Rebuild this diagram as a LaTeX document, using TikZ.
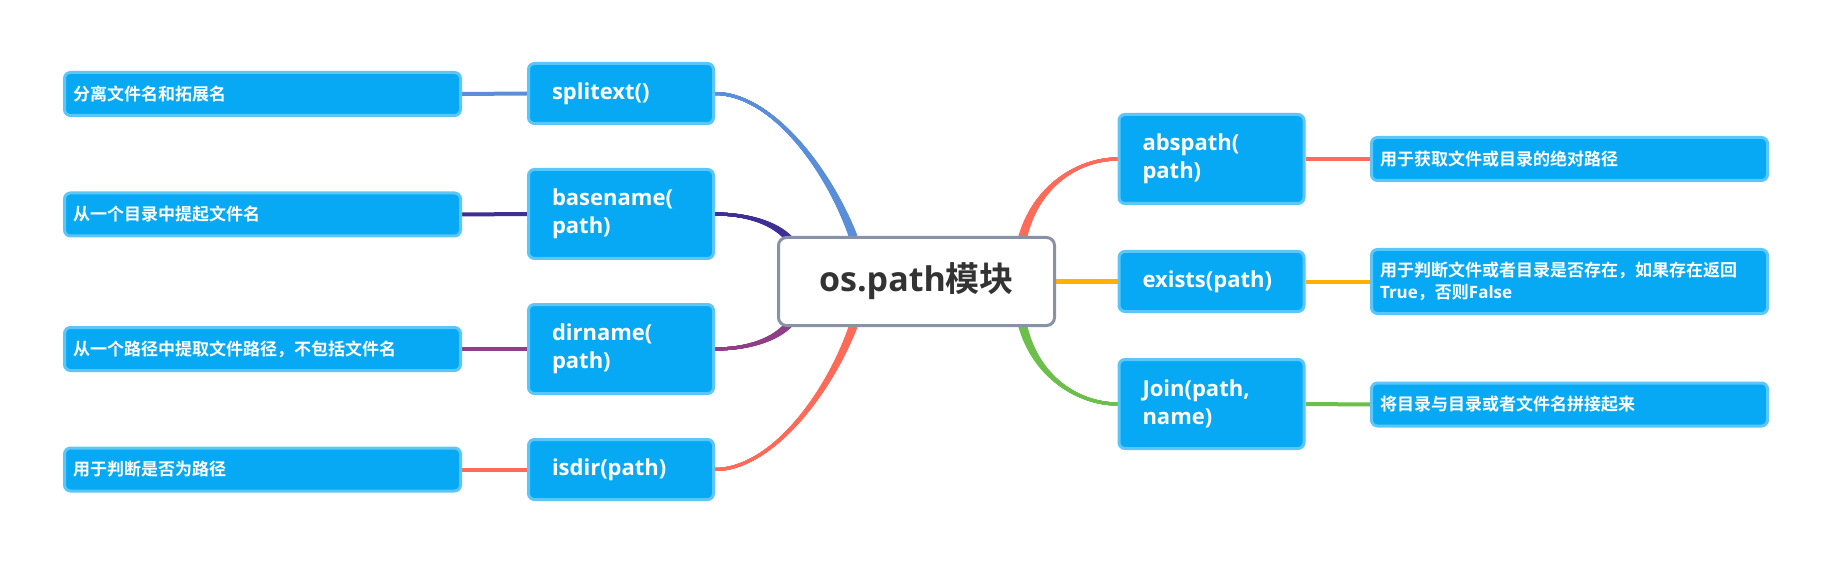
\documentclass[tikz,border=0pt]{standalone}
\usepackage{fontspec}
\setmainfont{Open Sans}
\newfontfamily\cjk{Noto Sans CJK SC}[BoldFont={Noto Sans CJK SC Bold}]
\newfontfamily\lat{Open Sans}
\usetikzlibrary{calc}
\definecolor{boxfill}{HTML}{07A9F5}
\definecolor{boxline}{HTML}{5BC6F7}
\definecolor{cline}{HTML}{8792A6}
\definecolor{ctext}{HTML}{333333}
\definecolor{cblue}{HTML}{5B8ED8}
\definecolor{cindigo}{HTML}{3F2E93}
\definecolor{cpurple}{HTML}{8E3F86}
\definecolor{ccoral}{HTML}{FF6B58}
\definecolor{corange}{HTML}{FFB000}
\definecolor{cgreen}{HTML}{6CBF4B}
\pgfdeclarelayer{back}\pgfdeclarelayer{bg}\pgfsetlayers{back,bg,main}
\tikzset{
  centerbox/.style={draw=cline, line width=3pt, fill=white, rounded corners=8pt,
    minimum width=276pt, minimum height=88pt, inner sep=0pt, text=ctext,
    font=\fontsize{34}{40}\selectfont\bfseries},
  childbox/.style={draw=boxline, line width=3pt, fill=boxfill, rounded corners=6pt,
    text width=138pt, inner xsep=23.5pt, inner ysep=0pt, align=left, text=white,
    font=\fontsize{22}{28}\selectfont\bfseries},
  leafbox/.style={draw=boxline, line width=3pt, fill=boxfill, rounded corners=6pt,
    text width=379pt, inner xsep=8.5pt, inner ysep=0pt, align=left, text=white,
    minimum height=43pt, font=\cjk\fontsize{17}{21.7}\selectfont\bfseries},
  leafline/.style={line width=4pt},
}
\newcommand\taperline[7]{%
  \foreach \dd in {-1,-0.8,-0.6,-0.4,-0.2,0,0.2,0.4,0.6,0.8,1}{%
    \draw[#1, line width=3pt] ($(#2)+({\dd*(#6)},{\dd*(#7)})$) .. controls ($(#3)+({0.5*\dd*(#6)},{0.5*\dd*(#7)})$) and (#4) .. (#5);
  }%
}
\begin{document}
\begin{tikzpicture}[x=1pt,y=-1pt]
\useasboundingbox (0,0) rectangle (1830,561);
\begin{pgfonlayer}{back}
\fill[white] (0,0) rectangle (1830,561);
\end{pgfonlayer}

\node[centerbox] (center) at (916.5,281.5) {os.path{\cjk 模块}};

\node[childbox, minimum height=60pt] (splitext) at (621,93.5) {splitext()};
\node[childbox, minimum height=89pt] (basename) at (621,214) {basename(\\path)};
\node[childbox, minimum height=89pt] (dirname) at (621,349) {dirname(\\path)};
\node[childbox, minimum height=60pt] (isdir) at (621,469.5) {isdir(path)};

\node[childbox, minimum height=89pt] (abspath) at (1211.5,159) {abspath(\\path)};
\node[childbox, minimum height=60pt] (exists) at (1211.5,281.5) {exists(path)};
\node[childbox, minimum height=89pt] (join) at (1211.5,404) {Join(path,\\name)};

\node[leafbox] (l1) at (262.5,94) {分离文件名和拓展名};
\node[leafbox] (l2) at (262.5,214.5) {从一个目录中提起文件名};
\node[leafbox] (l3) at (262.5,349) {从一个路径中提取文件路径，不包括文件名};
\node[leafbox] (l4) at (262.5,469.5) {用于判断是否为路径};

\node[leafbox] (r1) at (1569.5,159) {用于获取文件或目录的绝对路径};
\node[leafbox, minimum height=64pt] (r2) at (1569.5,281.5) {用于判断文件或者目录是否存在，如果存在返回\\{\lat True}，否则{\lat False}};
\node[leafbox] (r3) at (1569.5,404.5) {将目录与目录或者文件名拼接起来};

% anchor coordinates for curved branches
\coordinate (s0) at ($(center.north)+(-63.5,0)$);
\coordinate (s1) at ($(center.north)+(-89.5,-70)$);
\coordinate (s2) at ($(splitext.east)+(55,0)$);
\coordinate (b0) at ($(center.north west)+(13,4)$);
\coordinate (b1) at ($(center.north west)+(-2,-14)$);
\coordinate (b2) at ($(basename.east)+(30,0)$);
\coordinate (d0) at ($(center.south west)+(13,-4)$);
\coordinate (d1) at ($(center.south west)+(-2,14)$);
\coordinate (d2) at ($(dirname.east)+(30,0)$);
\coordinate (i0) at ($(center.south)+(-63.5,0)$);
\coordinate (i1) at ($(center.south)+(-89.5,70)$);
\coordinate (i2) at ($(isdir.east)+(55,0)$);
\coordinate (a0) at ($(center.north)+(105.5,4)$);
\coordinate (a1) at ($(center.north)+(118.5,-51)$);
\coordinate (a2) at ($(abspath.west)+(-38,0)$);
\coordinate (j0) at ($(center.south)+(105.5,-4)$);
\coordinate (j1) at ($(center.south)+(118.5,51)$);
\coordinate (j2) at ($(join.west)+(-38,0)$);

\begin{pgfonlayer}{bg}
\taperline{cblue}{s0}{s1}{s2}{splitext.east}{3}{0}
\taperline{cindigo}{b0}{b1}{b2}{basename.east}{1.9}{-1.6}
\taperline{cpurple}{d0}{d1}{d2}{dirname.east}{1.9}{1.6}
\taperline{ccoral}{i0}{i1}{i2}{isdir.east}{3}{0}
\taperline{ccoral}{a0}{a1}{a2}{abspath.west}{3}{0.6}
\taperline{cgreen}{j0}{j1}{j2}{join.west}{3}{-0.6}
\draw[corange, line width=5pt] (center.east) -- (exists.west);

\draw[leafline, cblue] (l1.east) -- (splitext.west);
\draw[leafline, cindigo] (l2.east) -- (basename.west);
\draw[leafline, cpurple] (l3.east) -- (dirname.west);
\draw[leafline, ccoral] (l4.east) -- (isdir.west);
\draw[leafline, ccoral] (abspath.east) -- (r1.west);
\draw[leafline, corange] (exists.east) -- (r2.west);
\draw[leafline, cgreen] (join.east) -- (r3.west);
\end{pgfonlayer}
\end{tikzpicture}
\end{document}
